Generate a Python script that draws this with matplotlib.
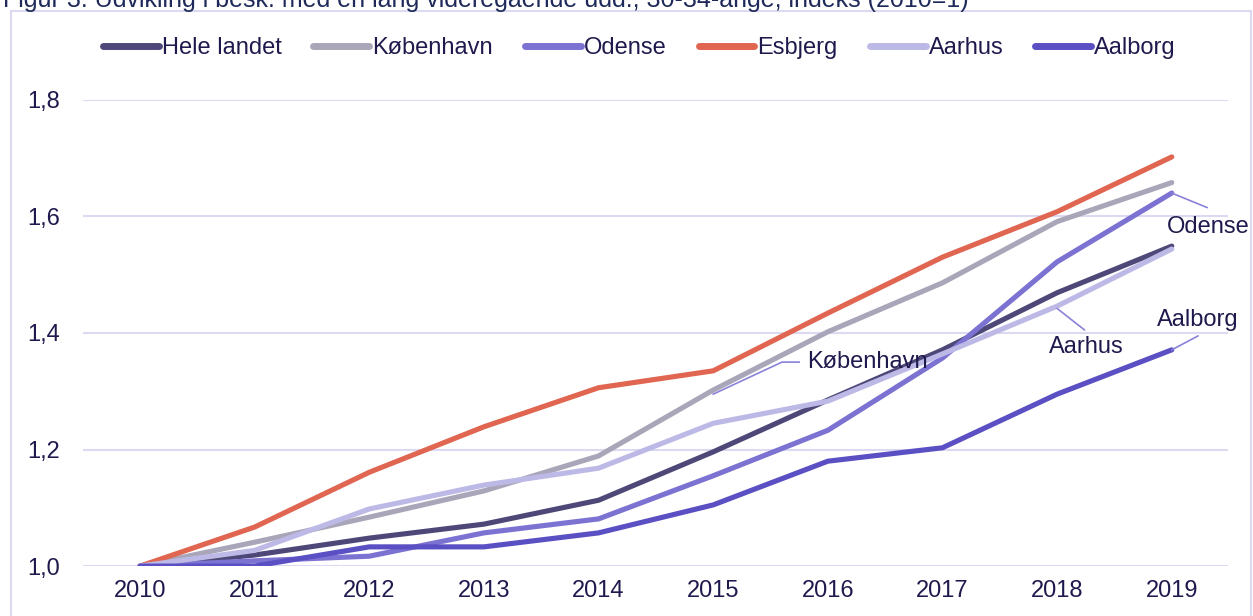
import matplotlib.pyplot as plt
from matplotlib.patches import Rectangle

plt.rcParams['font.family'] = ['Liberation Sans', 'DejaVu Sans']

# Data (index, 2010 = 1)
years = [2010, 2011, 2012, 2013, 2014, 2015, 2016, 2017, 2018, 2019]
hele_landet = [1.000, 1.019, 1.048, 1.072, 1.113, 1.196, 1.285, 1.371, 1.469, 1.549]
koebenhavn = [1.000, 1.041, 1.084, 1.129, 1.189, 1.302, 1.402, 1.486, 1.591, 1.658]
odense = [1.000, 1.009, 1.017, 1.057, 1.081, 1.155, 1.233, 1.357, 1.522, 1.640]
esbjerg = [1.000, 1.067, 1.161, 1.239, 1.306, 1.335, 1.434, 1.530, 1.608, 1.702]
aarhus = [1.000, 1.027, 1.098, 1.139, 1.168, 1.245, 1.283, 1.364, 1.446, 1.544]
aalborg = [1.000, 1.000, 1.033, 1.033, 1.057, 1.105, 1.180, 1.203, 1.295, 1.371]

series = [
    ('Hele landet', hele_landet, '#4d4878'),
    ('København', koebenhavn, '#aaa6b9'),
    ('Odense', odense, '#7b72d1'),
    ('Esbjerg', esbjerg, '#e06651'),
    ('Aarhus', aarhus, '#bdb9e6'),
    ('Aalborg', aalborg, '#5a4fc3'),
]

text_col = '#1f1a4d'
grid_col = '#dcd9f2'
fs = 17

fig = plt.figure(figsize=(12.53, 6.16), dpi=100)
ax = fig.add_axes([0.066, 0.081, 0.914, 0.757])

x = list(range(len(years)))
for name, vals, col in series:
    ax.plot(x, vals, color=col, lw=3.7, label=name, solid_capstyle='round')

ax.set_xlim(-0.5, 9.49)
ax.set_ylim(1.0, 1.8)
ax.set_yticks([1.0, 1.2, 1.4, 1.6, 1.8])
ax.set_yticklabels(['1,0', '1,2', '1,4', '1,6', '1,8'])
ax.set_xticks(x)
ax.set_xticklabels([str(y) for y in years])
ax.tick_params(length=0, labelsize=fs, labelcolor=text_col, pad=10)
ax.tick_params(axis='y', pad=16)
for s in ax.spines.values():
    s.set_visible(False)
ax.grid(axis='y', color=grid_col, lw=1.5)
ax.set_axisbelow(True)

# direct labels with leader lines
lab_kw = dict(fontsize=fs, color=text_col)
line_kw = dict(arrowstyle='-', color='#8a82d8', lw=1.2, shrinkA=0, shrinkB=0)
ax.text(8.96, 1.582, 'Odense', ha='left', va='center', **lab_kw)
ax.annotate('', xy=(9, odense[-1]), xytext=(9.31, 1.615), arrowprops=line_kw)
ax.text(7.93, 1.376, 'Aarhus', ha='left', va='center', **lab_kw)
ax.annotate('', xy=(8.0, 1.442), xytext=(8.24, 1.405), arrowprops=line_kw)
ax.text(8.87, 1.422, 'Aalborg', ha='left', va='center', **lab_kw)
ax.annotate('', xy=(9, aalborg[-1]), xytext=(9.23, 1.395), arrowprops=line_kw)
ax.text(5.82, 1.35, 'København', ha='left', va='center', **lab_kw)
ax.plot([5.0, 5.6, 5.75], [1.295, 1.35, 1.35], color='#8a82d8', lw=1.2)

leg = ax.legend(loc='center', bbox_to_anchor=(0.486, 1.11), ncol=6, frameon=False,
                fontsize=fs, handlelength=2.37, handletextpad=0.13, columnspacing=1.35)
for t in leg.get_texts():
    t.set_color(text_col)
for h in leg.get_lines():
    h.set_linewidth(5)

# outer frame and (cut off) title
fig.patches.append(Rectangle((0.0088, -0.02), 0.99, 1.002, transform=fig.transFigure,
                             fill=False, edgecolor=grid_col, lw=1.5))
fig.text(0.002, 0.9886, 'Figur 3: Udvikling i besk. med en lang videregående udd., 30-34-årige, indeks (2010=1)',
         fontsize=18, color='#1f2a5a', ha='left', va='baseline')

fig.savefig('out.png', dpi=100)
